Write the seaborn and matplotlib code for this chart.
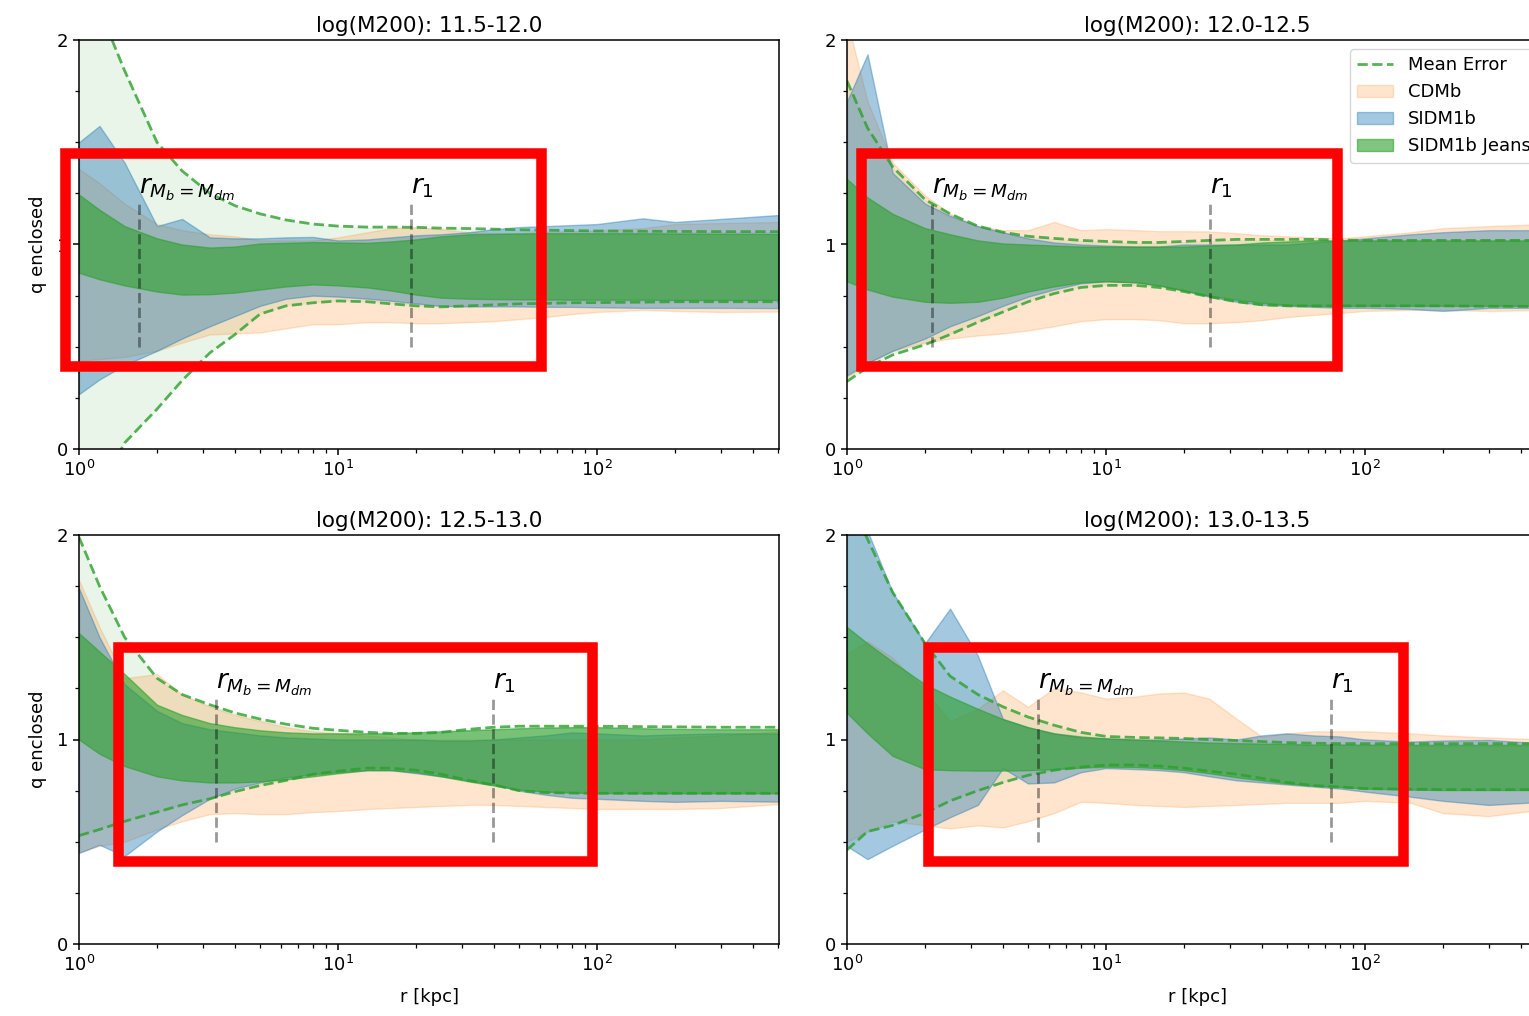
import numpy as np
import matplotlib
matplotlib.use("Agg")
import matplotlib.pyplot as plt
from matplotlib.lines import Line2D
from matplotlib.patches import Patch, Rectangle
from matplotlib.ticker import MultipleLocator
import seaborn as sns

# ---------------------------------------------------------------- data
R_KPC = [1.0, 1.2, 1.5, 2.0, 2.5, 3.2, 4.0, 5.0, 6.3, 8.0, 10, 13, 16, 20, 25,
         32, 40, 50, 63, 80, 100, 150, 200, 300, 500]

TITLES = ["log(M200): 11.5-12.0", "log(M200): 12.0-12.5",
          "log(M200): 12.5-13.0", "log(M200): 13.0-13.5"]

# radius where baryon mass equals dark-matter mass, and r_1, per mass bin
R_EQUAL = [1.70, 2.12, 3.38, 5.47]
R_ONE = [19.1, 25.2, 39.7, 73.8]

# log(M200) 11.5-12.0
m1_mean_hi = [2.45, 2.15, 1.85, 1.50, 1.36, 1.25, 1.19, 1.15, 1.12, 1.10, 1.09, 1.085, 1.085,
              1.084, 1.08, 1.078, 1.075, 1.072, 1.07, 1.068, 1.066, 1.065, 1.064, 1.063, 1.063]
m1_mean_lo = [-0.5, -0.2, 0.03, 0.195, 0.335, 0.47, 0.56, 0.66, 0.70, 0.715, 0.724, 0.72, 0.71,
              0.70, 0.695, 0.70, 0.705, 0.71, 0.712, 0.715, 0.716, 0.718, 0.72, 0.72, 0.72]
m1_cdm_hi = [1.37, 1.30, 1.20, 1.10, 1.07, 1.05, 1.04, 1.02, 1.02, 1.02, 1.035, 1.06, 1.08,
             1.085, 1.075, 1.06, 1.055, 1.055, 1.06, 1.065, 1.07, 1.08, 1.10, 1.105, 1.11]
m1_cdm_lo = [0.43, 0.44, 0.45, 0.48, 0.52, 0.56, 0.565, 0.57, 0.59, 0.61, 0.61, 0.62, 0.62,
             0.615, 0.615, 0.62, 0.625, 0.635, 0.645, 0.66, 0.67, 0.68, 0.675, 0.67, 0.672]
m1_sidm_hi = [1.50, 1.58, 1.40, 1.09, 1.125, 1.035, 1.03, 1.03, 1.035, 1.037, 1.02, 1.025, 1.035,
              1.045, 1.05, 1.06, 1.075, 1.085, 1.09, 1.095, 1.10, 1.128, 1.11, 1.125, 1.144]
m1_sidm_lo = [0.268, 0.34, 0.41, 0.48, 0.54, 0.60, 0.65, 0.70, 0.735, 0.75, 0.745, 0.735, 0.725,
              0.712, 0.70, 0.697, 0.697, 0.697, 0.695, 0.695, 0.693, 0.69, 0.69, 0.69, 0.689]
m1_jeans_hi = [1.244, 1.17, 1.09, 1.03, 1.0, 0.985, 0.99, 1.005, 1.008, 1.012, 1.01, 1.008, 1.015,
               1.025, 1.04, 1.05, 1.052, 1.054, 1.055, 1.055, 1.055, 1.055, 1.054, 1.053, 1.052]
m1_jeans_lo = [0.862, 0.83, 0.80, 0.77, 0.755, 0.757, 0.765, 0.78, 0.795, 0.805, 0.80, 0.79, 0.775,
               0.755, 0.74, 0.735, 0.733, 0.732, 0.731, 0.73, 0.73, 0.73, 0.729, 0.729, 0.729]

# log(M200) 12.0-12.5
m2_mean_hi = [1.80, 1.57, 1.38, 1.22, 1.15, 1.09, 1.06, 1.04, 1.03, 1.02, 1.015, 1.01, 1.01,
              1.015, 1.02, 1.025, 1.025, 1.025, 1.025, 1.022, 1.02, 1.02, 1.02, 1.02, 1.02]
m2_mean_lo = [0.33, 0.40, 0.46, 0.51, 0.56, 0.62, 0.67, 0.72, 0.76, 0.79, 0.80, 0.80, 0.79,
              0.77, 0.745, 0.72, 0.705, 0.70, 0.70, 0.70, 0.70, 0.70, 0.70, 0.698, 0.697]
m2_cdm_hi = [2.10, 1.70, 1.40, 1.24, 1.15, 1.09, 1.07, 1.07, 1.11, 1.07, 1.075, 1.07, 1.065,
             1.065, 1.064, 1.055, 1.045, 1.04, 1.035, 1.03, 1.04, 1.06, 1.08, 1.09, 1.10]
m2_cdm_lo = [0.35, 0.42, 0.48, 0.52, 0.54, 0.555, 0.565, 0.58, 0.60, 0.625, 0.635, 0.635, 0.63,
             0.615, 0.615, 0.62, 0.63, 0.645, 0.655, 0.665, 0.675, 0.68, 0.68, 0.675, 0.68]
m2_sidm_hi = [1.70, 1.93, 1.35, 1.20, 1.14, 1.09, 1.06, 1.03, 1.01, 1.0, 0.995, 0.99, 0.99,
              1.0, 1.0, 1.0, 1.0, 1.0, 1.01, 1.02, 1.03, 1.05, 1.06, 1.07, 1.07]
m2_sidm_lo = [0.36, 0.42, 0.48, 0.54, 0.60, 0.65, 0.70, 0.745, 0.78, 0.81, 0.82, 0.815, 0.80,
              0.775, 0.745, 0.72, 0.705, 0.70, 0.695, 0.69, 0.69, 0.685, 0.675, 0.69, 0.69]
m2_jeans_hi = [1.32, 1.23, 1.15, 1.08, 1.05, 1.02, 1.005, 1.0, 0.995, 0.99, 0.99, 0.99, 0.99,
               0.99, 0.995, 1.0, 1.01, 1.015, 1.02, 1.02, 1.02, 1.02, 1.02, 1.02, 1.02]
m2_jeans_lo = [0.82, 0.78, 0.745, 0.72, 0.715, 0.72, 0.74, 0.77, 0.795, 0.815, 0.82, 0.815, 0.80,
               0.775, 0.75, 0.73, 0.715, 0.705, 0.70, 0.70, 0.70, 0.70, 0.70, 0.70, 0.70]

# log(M200) 12.5-13.0
m3_mean_hi = [1.99, 1.75, 1.50, 1.30, 1.22, 1.17, 1.13, 1.10, 1.075, 1.055, 1.045, 1.035, 1.03,
              1.03, 1.035, 1.05, 1.06, 1.065, 1.065, 1.065, 1.065, 1.063, 1.062, 1.06, 1.06]
m3_mean_lo = [0.53, 0.56, 0.60, 0.645, 0.68, 0.71, 0.745, 0.775, 0.80, 0.83, 0.845, 0.86, 0.86,
              0.85, 0.83, 0.80, 0.778, 0.75, 0.74, 0.738, 0.737, 0.737, 0.737, 0.737, 0.737]
m3_cdm_hi = [1.78, 1.55, 1.30, 1.32, 1.22, 1.16, 1.12, 1.09, 1.06, 1.04, 1.03, 1.02, 1.01,
             1.0, 1.0, 1.0, 1.0, 1.0, 1.0, 1.0, 1.0, 1.0, 1.01, 1.02, 1.04]
m3_cdm_lo = [0.45, 0.48, 0.50, 0.56, 0.60, 0.635, 0.64, 0.635, 0.635, 0.645, 0.65, 0.66, 0.665,
             0.67, 0.675, 0.68, 0.68, 0.675, 0.67, 0.665, 0.66, 0.66, 0.66, 0.665, 0.684]
m3_sidm_hi = [1.74, 1.50, 1.27, 1.14, 1.08, 1.05, 1.035, 1.02, 1.01, 1.005, 1.0, 1.0, 1.0,
              1.0, 0.995, 0.995, 1.0, 1.01, 1.02, 1.035, 1.03, 1.02, 1.025, 1.03, 1.03]
m3_sidm_lo = [0.445, 0.485, 0.43, 0.55, 0.63, 0.71, 0.76, 0.79, 0.815, 0.83, 0.84, 0.85, 0.85,
              0.835, 0.82, 0.80, 0.78, 0.75, 0.73, 0.715, 0.71, 0.70, 0.695, 0.70, 0.696]
m3_jeans_hi = [1.52, 1.43, 1.32, 1.17, 1.12, 1.08, 1.06, 1.045, 1.035, 1.03, 1.03, 1.03, 1.03,
               1.035, 1.04, 1.045, 1.05, 1.055, 1.058, 1.06, 1.06, 1.055, 1.052, 1.05, 1.05]
m3_jeans_lo = [1.0, 0.93, 0.87, 0.82, 0.80, 0.79, 0.79, 0.795, 0.805, 0.82, 0.835, 0.85, 0.85,
               0.84, 0.82, 0.795, 0.775, 0.755, 0.745, 0.74, 0.738, 0.737, 0.737, 0.737, 0.737]

# log(M200) 13.0-13.5
m4_mean_hi = [2.2, 1.98, 1.72, 1.47, 1.31, 1.22, 1.16, 1.11, 1.07, 1.035, 1.015, 1.01, 1.008,
              1.005, 1.0, 0.995, 0.99, 0.985, 0.982, 0.98, 0.98, 0.98, 0.98, 0.98, 0.98]
m4_mean_lo = [0.46, 0.55, 0.58, 0.64, 0.70, 0.75, 0.79, 0.825, 0.85, 0.865, 0.875, 0.875, 0.87,
              0.86, 0.845, 0.83, 0.81, 0.79, 0.775, 0.768, 0.76, 0.757, 0.755, 0.755, 0.755]
m4_cdm_hi = [1.42, 1.48, 1.40, 1.24, 1.09, 1.15, 1.24, 1.16, 1.25, 1.23, 1.20, 1.21, 1.225,
             1.23, 1.20, 1.10, 1.014, 1.03, 1.04, 1.04, 1.04, 1.03, 1.02, 1.01, 1.0]
m4_cdm_lo = [0.50, 0.55, 0.60, 0.58, 0.565, 0.58, 0.57, 0.60, 0.64, 0.695, 0.69, 0.68, 0.675,
             0.67, 0.675, 0.68, 0.685, 0.69, 0.69, 0.69, 0.70, 0.69, 0.64, 0.625, 0.66]
m4_sidm_hi = [2.3, 2.02, 1.72, 1.47, 1.64, 1.41, 1.10, 1.06, 1.03, 1.01, 1.006, 1.0, 1.0,
              1.005, 1.01, 1.0, 1.02, 1.03, 1.02, 1.015, 1.0, 0.99, 0.995, 0.998, 0.98]
m4_sidm_lo = [0.478, 0.415, 0.48, 0.56, 0.62, 0.68, 0.86, 0.785, 0.79, 0.84, 0.86, 0.855, 0.85,
              0.84, 0.82, 0.80, 0.79, 0.78, 0.77, 0.76, 0.745, 0.72, 0.70, 0.68, 0.696]
m4_jeans_hi = [1.55, 1.47, 1.38, 1.27, 1.21, 1.15, 1.10, 1.06, 1.03, 1.015, 1.005, 1.0, 0.995,
               0.99, 0.985, 0.982, 0.98, 0.978, 0.975, 0.975, 0.974, 0.973, 0.973, 0.973, 0.973]
m4_jeans_lo = [1.13, 1.03, 0.92, 0.855, 0.85, 0.848, 0.848, 0.85, 0.855, 0.862, 0.867, 0.865, 0.86,
               0.85, 0.835, 0.815, 0.80, 0.785, 0.775, 0.768, 0.76, 0.755, 0.753, 0.753, 0.753]

BINS = [
    dict(mean=(m1_mean_lo, m1_mean_hi), cdm=(m1_cdm_lo, m1_cdm_hi),
         sidm=(m1_sidm_lo, m1_sidm_hi), jeans=(m1_jeans_lo, m1_jeans_hi)),
    dict(mean=(m2_mean_lo, m2_mean_hi), cdm=(m2_cdm_lo, m2_cdm_hi),
         sidm=(m2_sidm_lo, m2_sidm_hi), jeans=(m2_jeans_lo, m2_jeans_hi)),
    dict(mean=(m3_mean_lo, m3_mean_hi), cdm=(m3_cdm_lo, m3_cdm_hi),
         sidm=(m3_sidm_lo, m3_sidm_hi), jeans=(m3_jeans_lo, m3_jeans_hi)),
    dict(mean=(m4_mean_lo, m4_mean_hi), cdm=(m4_cdm_lo, m4_cdm_hi),
         sidm=(m4_sidm_lo, m4_sidm_hi), jeans=(m4_jeans_lo, m4_jeans_hi)),
]

# ---------------------------------------------------------------- style
sns.set_theme(style="ticks", palette="tab10", rc={
    "axes.edgecolor": "black", "axes.labelcolor": "black", "text.color": "black",
    "xtick.color": "black", "ytick.color": "black",
    "xtick.labelsize": 13, "ytick.labelsize": 13, "axes.labelsize": 13,
    "axes.titlesize": 15.5, "legend.fontsize": 13,
    "axes.linewidth": 1.1, "xtick.major.size": 4.5, "ytick.major.size": 4.5,
    "xtick.minor.size": 2.6, "ytick.minor.size": 2.6,
    "xtick.major.width": 1.1, "ytick.major.width": 1.1,
    "xtick.minor.width": 0.9, "ytick.minor.width": 0.9,
    "axes.grid": False,
})
plt.rcParams["font.family"] = ["DejaVu Sans"]
plt.rcParams["mathtext.fontset"] = "dejavusans"

pal = sns.color_palette("tab10")
C_CDM, C_SIDM, C_JEANS = pal[1], pal[0], pal[2]

W, H = 1529, 1016
fig = plt.figure(figsize=(W / 100, H / 100), dpi=100)

ax_w, ax_h = 700 / W, 409 / H
lefts = [79 / W, 847 / W]
bottoms = [1 - 449 / H, 1 - 944 / H]
positions = [(lefts[0], bottoms[0]), (lefts[1], bottoms[0]),
             (lefts[0], bottoms[1]), (lefts[1], bottoms[1])]

r = np.array(R_KPC, dtype=float)

for i, (pos, d) in enumerate(zip(positions, BINS)):
    ax = fig.add_axes([pos[0], pos[1], ax_w, ax_h])

    # envelope of the mean error
    ax.fill_between(r, d["mean"][0], d["mean"][1], color=C_JEANS, alpha=0.1, lw=0)
    ax.fill_between(r, d["cdm"][0], d["cdm"][1], color=C_CDM, alpha=0.2)
    ax.fill_between(r, d["sidm"][0], d["sidm"][1], color=C_SIDM, alpha=0.4)
    ax.fill_between(r, d["jeans"][0], d["jeans"][1], color=C_JEANS, alpha=0.6)
    for bound in d["mean"]:
        sns.lineplot(x=r, y=np.array(bound), ax=ax, color=C_JEANS, alpha=0.8,
                     linestyle="--", linewidth=2, legend=False)

    ax.vlines([R_EQUAL[i], R_ONE[i]], 0.5, 1.2, colors="k", linestyles="--",
              linewidth=2, alpha=0.4)
    ax.text(R_EQUAL[i], 1.25, r"$r_{M_b = M_{dm}}$", fontsize=19, ha="left", va="baseline")
    ax.text(R_ONE[i], 1.25, r"$r_1$", fontsize=19, ha="left", va="baseline")

    ax.set_xscale("log")
    ax.set_xlim(1, 504)
    ax.set_ylim(0, 2)
    ax.set_yticks([0, 1, 2])
    ax.set_yticklabels(["0", "1", "2"])
    ax.yaxis.set_minor_locator(MultipleLocator(0.25))
    ax.set_title(TITLES[i], pad=6)
    if i % 2 == 0:
        ax.set_ylabel("q enclosed", labelpad=7)
    if i >= 2:
        ax.set_xlabel("r [kpc]", labelpad=9)

    if i == 1:
        handles = [
            Line2D([], [], color=C_JEANS, alpha=0.8, linestyle="--", linewidth=2),
            Patch(facecolor=C_CDM, alpha=0.2, edgecolor=C_CDM),
            Patch(facecolor=C_SIDM, alpha=0.4, edgecolor=C_SIDM),
            Patch(facecolor=C_JEANS, alpha=0.6, edgecolor=C_JEANS),
        ]
        ax.legend(handles, ["Mean Error", "CDMb", "SIDM1b", "SIDM1b Jeans"],
                  loc="upper right", frameon=True)

# highlighted regions (figure pixel coordinates, centre of the stroke)
boxes = [(65, 153, 540.5, 365.5), (860.5, 153, 1336.5, 365.5),
         (117.5, 647, 592, 860.5), (927.5, 647, 1403, 860.5)]
for x0, y0, x1, y1 in boxes:
    fig.add_artist(Rectangle((x0 / W, 1 - y1 / H), (x1 - x0) / W, (y1 - y0) / H,
                             transform=fig.transFigure, fill=False,
                             edgecolor="#ff0000", linewidth=7.6, zorder=10))

fig.savefig("out.png", dpi=100)
